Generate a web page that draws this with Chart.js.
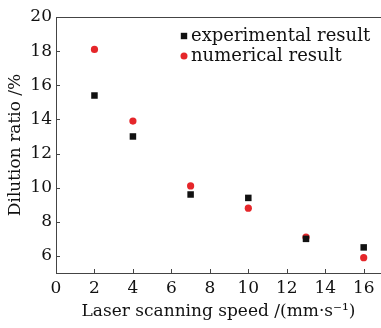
<!DOCTYPE html>
<html>
<head>
<meta charset="utf-8">
<script src="https://cdn.jsdelivr.net/npm/chart.js@4"></script>
<style>
html,body{margin:0;padding:0;background:#fff;}
#wrap{width:381px;height:328px;position:relative;}
</style>
</head>
<body>
<div id="wrap"><canvas id="c"></canvas></div>
<script>
const speeds = [2, 4, 7, 10, 13, 16];
const experimental = [15.4, 13.0, 9.6, 9.4, 7.0, 6.5];
const numerical = [18.1, 13.9, 10.1, 8.8, 7.1, 5.9];
const xTicks = [0, 2, 4, 6, 8, 10, 12, 14, 16];
const yTicks = [6, 8, 10, 12, 14, 16, 18, 20];
const seriesNames = ['experimental result', 'numerical result'];

const FONT = "'DejaVu Serif', serif";
const AXIS = '#444';

const frame = {
  id: 'frame',
  afterDatasetsDraw(chart) {
    const {ctx, chartArea: a, scales} = chart;
    ctx.save();
    ctx.strokeStyle = AXIS;
    ctx.lineWidth = 1;
    ctx.beginPath();
    ctx.moveTo(a.left, Math.round(a.top) + 0.5);
    ctx.lineTo(a.right, Math.round(a.top) + 0.5);
    ctx.stroke();
    ctx.beginPath();
    scales.x.ticks.forEach(t => {
      const px = Math.round(scales.x.getPixelForValue(t.value)) + 0.5;
      ctx.moveTo(px, a.bottom);
      ctx.lineTo(px, a.bottom - 4);
    });
    scales.y.ticks.forEach(t => {
      const py = Math.round(scales.y.getPixelForValue(t.value)) + 0.5;
      ctx.moveTo(a.left, py);
      ctx.lineTo(a.left + 4, py);
    });
    ctx.stroke();
    const ds = chart.data.datasets;
    const lx = 184, ly = [36, 56];
    ctx.font = "18px " + FONT;
    ctx.textBaseline = 'middle';
    ctx.textAlign = 'left';
    ds.forEach((d, i) => {
      ctx.fillStyle = d.backgroundColor;
      if (d.pointStyle === 'rect') {
        ctx.fillRect(lx - 3.2, ly[i] - 3.2, 6.4, 6.4);
      } else {
        ctx.beginPath();
        ctx.arc(lx, ly[i], 3.5, 0, Math.PI * 2);
        ctx.fill();
      }
      ctx.fillStyle = '#111';
      ctx.fillText(d.label, lx + 7, ly[i]);
    });
    ctx.restore();
  }
};

new Chart(document.getElementById('c'), {
  type: 'scatter',
  data: {
    datasets: [
      {
        label: seriesNames[0],
        data: speeds.map((x, i) => ({x, y: experimental[i]})),
        pointStyle: 'rect',
        pointRadius: 4.6,
        backgroundColor: '#111',
        borderColor: '#111',
        borderWidth: 0
      },
      {
        label: seriesNames[1],
        data: speeds.map((x, i) => ({x, y: numerical[i]})),
        pointStyle: 'circle',
        pointRadius: 3.6,
        backgroundColor: '#e5262a',
        borderColor: '#e5262a',
        borderWidth: 0
      }
    ]
  },
  options: {
    responsive: true,
    maintainAspectRatio: false,
    animation: false,
    devicePixelRatio: 1,
    layout: {autoPadding: false, padding: {top: 17, right: 0, left: 0, bottom: 0}},
    plugins: {legend: {display: false}, tooltip: {enabled: false}},
    scales: {
      x: {
        type: 'linear',
        min: 0,
        max: 16.9,
        afterBuildTicks: s => { s.ticks = xTicks.map(v => ({value: v})); },
        afterFit: s => { s.height = 55; s.paddingRight = 0; s.paddingLeft = 0; },
        grid: {display: true, drawOnChartArea: false, drawTicks: false},
        border: {display: true, color: AXIS, width: 1},
        ticks: {color: '#111', font: {family: FONT, size: 17}, padding: 5, maxRotation: 0, includeBounds: false},
        title: {display: true, text: 'Laser scanning speed /(mm·s⁻¹)', color: '#111',
                font: {family: FONT, size: 17}, padding: {top: 0, bottom: 6}}
      },
      y: {
        type: 'linear',
        min: 5,
        max: 20,
        afterBuildTicks: s => { s.ticks = yTicks.map(v => ({value: v})); },
        afterFit: s => { s.width = 56; s.paddingTop = 0; s.paddingBottom = 0; },
        grid: {display: true, drawOnChartArea: false, drawTicks: false},
        border: {display: true, color: AXIS, width: 1},
        ticks: {color: '#111', font: {family: FONT, size: 17}, padding: 4, includeBounds: false},
        title: {display: true, text: 'Dilution ratio /%', color: '#111',
                font: {family: FONT, size: 17}, padding: {top: 5, bottom: 0}}
      }
    }
  },
  plugins: [frame]
});
</script>
</body>
</html>
